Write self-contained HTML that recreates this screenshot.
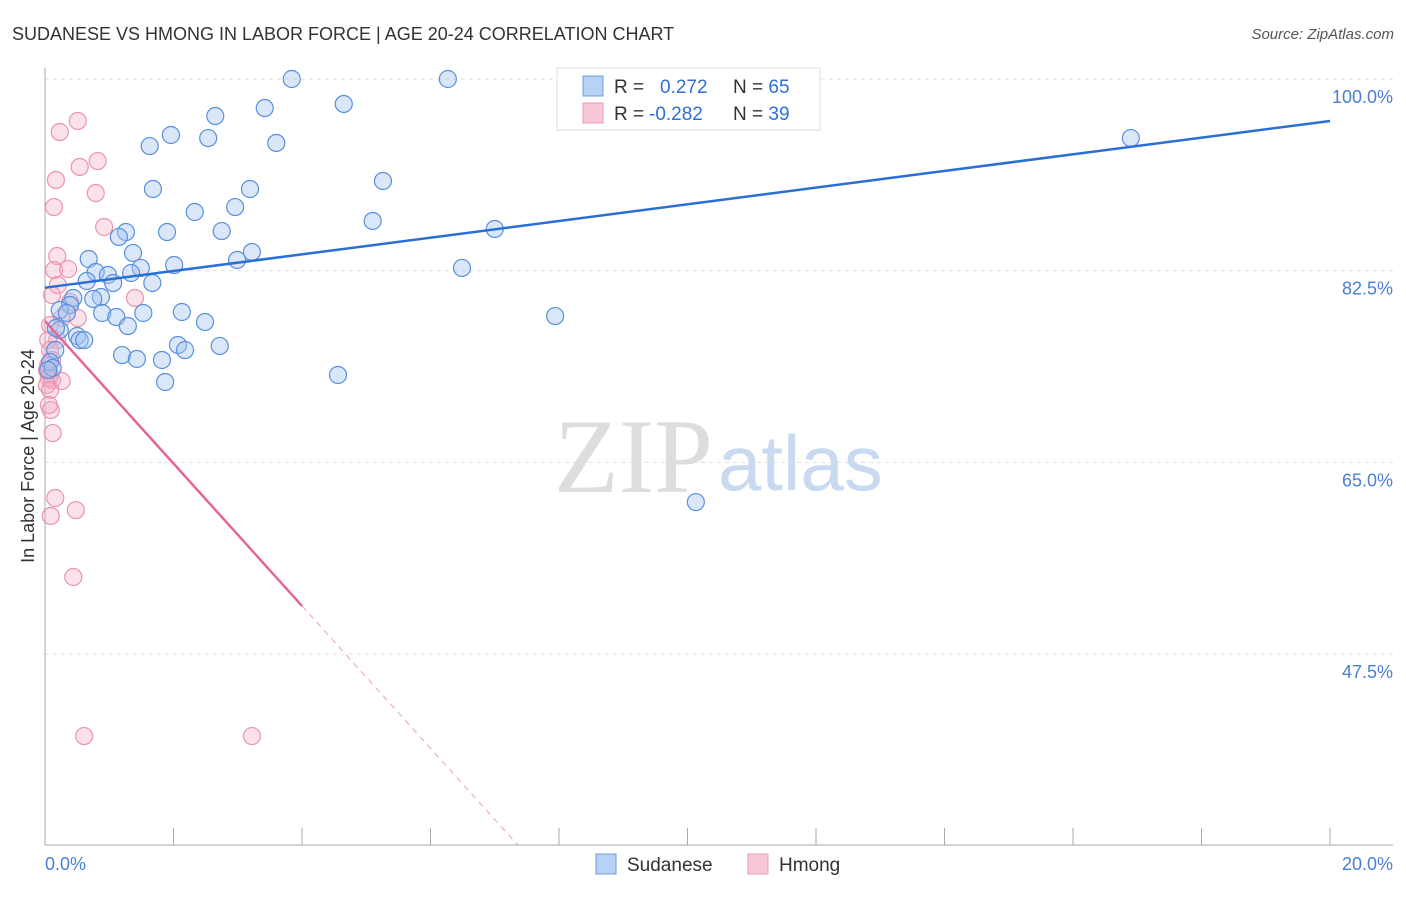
<!DOCTYPE html>
<html><head><meta charset="utf-8"><style>
body{margin:0;background:#fff;font-family:"Liberation Sans",sans-serif}
</style></head><body>
<svg id="c" width="1406" height="892" xmlns="http://www.w3.org/2000/svg">
<text x="12" y="40" font-size="18" fill="#333">SUDANESE VS HMONG IN LABOR FORCE | AGE 20-24 CORRELATION CHART</text>
<text x="1394" y="39" font-size="15" fill="#555" font-style="italic" text-anchor="end">Source: ZipAtlas.com</text>
<g><text x="554" y="492" font-size="106" font-family="Liberation Serif" fill="#ddd">ZIP</text><text x="718" y="490" font-size="78" fill="#c9d9ef">atlas</text></g>
<g id="grid"></g>
<line x1="45" y1="68" x2="45" y2="845" stroke="#aaa"/>
<line x1="45" y1="845" x2="1393" y2="845" stroke="#aaa"/>
<text x="34" y="456" font-size="18" fill="#333" text-anchor="middle" transform="rotate(-90 34 456)">In Labor Force | Age 20-24</text>
<text x="45" y="870" font-size="18" fill="#4a7fd4">0.0%</text>
<text x="1393" y="870" font-size="18" fill="#4a7fd4" text-anchor="end">20.0%</text>
<g id="pts"></g>
<g id="lines"></g>
<g>
<rect x="557" y="68" width="263" height="62" fill="#fff" stroke="#ddd"/>
<rect x="583" y="76" width="20" height="20" fill="#b8d2f5" stroke="#6d9be0"/>
<rect x="583" y="103" width="20" height="20" fill="#f8c8d6" stroke="#ec9ab3"/>
<text x="614" y="93" font-size="19" fill="#333">R = <tspan fill="#2f6fd6" x="660">0.272</tspan><tspan x="733">N = </tspan><tspan fill="#2f6fd6">65</tspan></text>
<text x="614" y="120" font-size="19" fill="#333">R = <tspan fill="#2f6fd6" x="649">-0.282</tspan><tspan x="733">N = </tspan><tspan fill="#2f6fd6">39</tspan></text>
</g>
<g>
<rect x="596" y="854" width="20" height="20" fill="#b8d2f5" stroke="#6d9be0"/>
<text x="627" y="871" font-size="19" fill="#333">Sudanese</text>
<rect x="748" y="854" width="20" height="20" fill="#f8c8d6" stroke="#ec9ab3"/>
<text x="779" y="871" font-size="19" fill="#333">Hmong</text>
</g>
</svg>
<script>
const yTicks=[100,82.5,65,47.5];
const xTicks=[0,2,4,6,8,10,12,14,16,18,20];
const blueX=[3.84,6.27,4.65,3.42,2.65,1.96,2.54,3.60,1.63,16.90,5.26,1.68,3.19,2.33,2.96,5.10,2.75,1.90,1.26,1.15,7.00,3.22,1.37,0.68,2.99,2.01,1.49,6.49,0.79,1.34,0.98,1.06,1.67,0.65,0.44,0.87,0.75,0.39,0.23,0.34,2.13,1.53,0.89,1.11,2.49,7.94,1.29,0.23,0.17,0.50,0.54,0.61,2.07,0.16,2.18,2.72,1.20,1.43,1.82,0.08,0.12,4.56,1.87,10.13,0.05];
const blueY=[100,100,97.72,97.35,96.62,94.89,94.61,94.16,93.88,94.61,90.69,89.96,89.96,87.86,88.31,87.04,86.12,86.03,86.03,85.58,86.31,84.21,84.12,83.57,83.48,83.02,82.75,82.75,82.38,82.29,82.11,81.38,81.38,81.56,80.01,80.10,79.92,79.37,78.91,78.64,78.73,78.64,78.64,78.27,77.82,78.36,77.45,77.09,77.27,76.54,76.17,76.17,75.72,75.26,75.26,75.63,74.80,74.44,74.35,74.16,73.62,72.98,72.34,61.38,73.43];
const pinkX=[0.23,0.51,0.82,0.54,0.17,0.79,0.14,0.92,0.19,0.14,0.36,0.20,0.11,1.40,0.39,0.26,0.51,0.08,0.19,0.05,0.08,0.11,0.05,0.03,0.08,0.06,0.11,0.03,0.26,0.08,0.09,0.12,0.16,0.09,0.48,0.44,0.61,3.22,0.06];
const pinkY=[95.16,96.17,92.51,91.97,90.78,89.59,88.31,86.49,83.84,82.56,82.65,81.19,80.28,80.01,79.64,78.18,78.18,77.54,76.17,76.17,75.26,74.35,73.89,73.43,72.98,72.70,72.52,72.07,72.43,71.61,69.78,67.68,61.75,60.11,60.65,54.54,40.02,40.02,70.24];
const blueTrend=[80.95,96.17];
const pinkTrend=[77.9,-6.5];
const X=v=>45+v/20*1285, Y=v=>79+(100-v)/17.5*191.7;
const NS='http://www.w3.org/2000/svg';
function mk(t,a,p){const e=document.createElementNS(NS,t);for(const k in a)e.setAttribute(k,a[k]);p.appendChild(e);return e;}
const grid=document.getElementById('grid');
yTicks.forEach(v=>{
 const l=mk('line',{x1:45,x2:1393,y1:Y(v),y2:Y(v),stroke:'#ddd','stroke-dasharray':'4,4'},grid);
 
 
 const t=mk('text',{x:1393,y:Y(v)+24,'font-size':18,fill:'#4a7fd4','text-anchor':'end'},grid);
 t.textContent=v.toFixed(1)+'%';
 
 
});
xTicks.forEach(v=>{
 const l=mk('line',{x1:X(v),x2:X(v),y1:828,y2:845,stroke:'#aaa'},grid);
 
 
});
const pts=document.getElementById('pts');
pinkX.forEach((x,i)=>{
 const c=mk('circle',{cx:X(x),cy:Y(pinkY[i]),r:8.5,fill:'rgba(244,170,195,0.35)',stroke:'#eb94b0','stroke-width':1.2},pts);
 
 
});
blueX.forEach((x,i)=>{
 const c=mk('circle',{cx:X(x),cy:Y(blueY[i]),r:8.5,fill:'rgba(160,195,240,0.4)',stroke:'#5a8fdc','stroke-width':1.2},pts);
 
 
});
const lines=document.getElementById('lines');
let b=mk('line',{x1:X(0),y1:Y(blueTrend[0]),x2:X(20),y2:Y(blueTrend[1]),stroke:'#2a6fd6','stroke-width':2.5},lines);


const pf=x=>pinkTrend[0]+pinkTrend[1]*x;
let p=mk('line',{x1:X(0),y1:Y(pf(0)),x2:X(4),y2:Y(pf(4)),stroke:'#e5659a','stroke-width':2.5},lines);


const xe=(30.1-pinkTrend[0])/pinkTrend[1];
let d=mk('line',{x1:X(4),y1:Y(pf(4)),x2:X(xe),y2:Y(pf(xe)),stroke:'#eaa0bb','stroke-width':1,'stroke-dasharray':'6,5'},lines);


</script>
</body></html>
